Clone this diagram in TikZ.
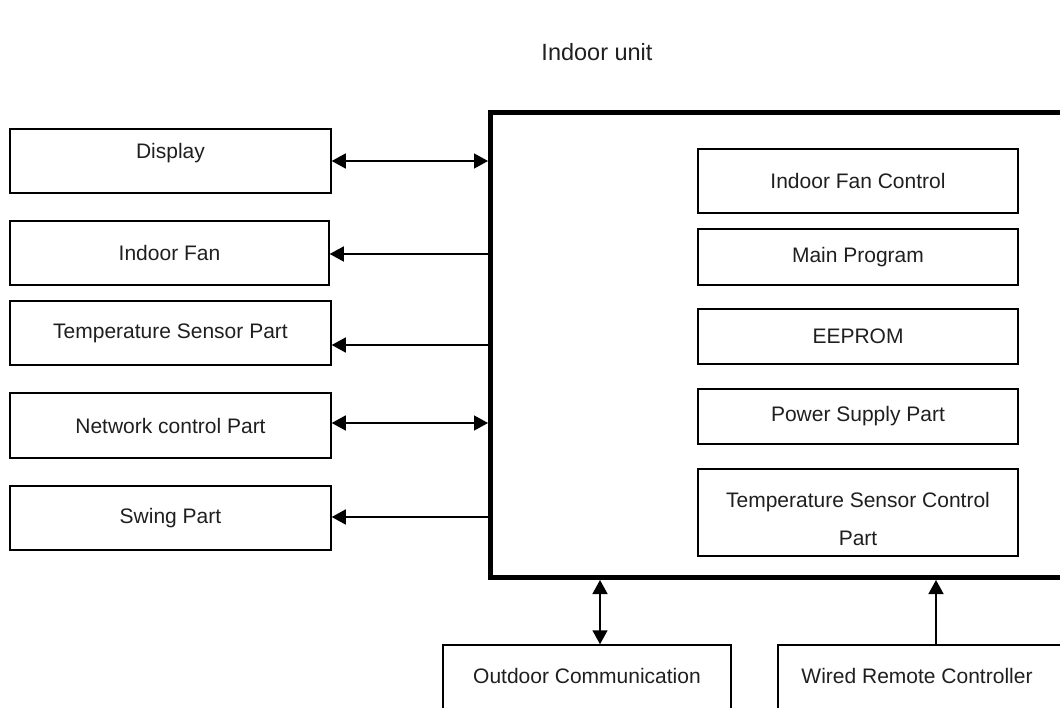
\documentclass[tikz,border=0pt]{standalone}
\usepackage{fontspec}
\setmainfont{Liberation Sans}
\usetikzlibrary{arrows.meta}
\begin{document}
\begin{tikzpicture}[x=1pt,y=-1pt,
  txt/.style={font=\fontsize{21}{38}\selectfont, text=black!88},
  box/.style={draw, line width=1.5pt, inner sep=0pt, txt},
  bigbox/.style={draw, line width=5pt, inner sep=0pt},
  conn/.style={line width=1.5pt, >={Triangle[length=14pt,width=15pt]}}]
\useasboundingbox (0,0) rectangle (1060,708);
\clip (0,0) rectangle (1060,708);

\node[txt, font=\fontsize{23.5}{28}\selectfont] (title) at (597,52) {Indoor unit};

% main unit
\node[bigbox, minimum width=589.5pt, minimum height=464.5pt] (main) at (785.25,345.25) {};

% left boxes
\node[box, minimum width=321pt, minimum height=64pt] (disp) at (170.5,161) {\raisebox{8pt}[\height][\depth]{Display}};
\node[box, minimum width=319pt, minimum height=64pt] (fan) at (169.5,253) {Indoor Fan};
\node[box, minimum width=321pt, minimum height=64pt] (temp) at (170.5,333) {Temperature Sensor Part};
\node[box, minimum width=321pt, minimum height=65pt] (net) at (170.5,425.5) {Network control Part};
\node[box, minimum width=321pt, minimum height=64pt] (swing) at (170.5,518) {Swing Part};

% inner boxes
\node[box, minimum width=320pt, minimum height=64pt] (ifc) at (858,181) {Indoor Fan Control};
\node[box, minimum width=320pt, minimum height=56pt] (mp) at (858,257) {Main Program};
\node[box, minimum width=320pt, minimum height=55pt] (eep) at (858,336.5) {EEPROM};
\node[box, minimum width=320pt, minimum height=55pt] (ps) at (858,416.5) {Power Supply Part};
\node[box, minimum width=320pt, minimum height=87pt,
  label={[txt, align=center, yshift=-6pt]center:Temperature Sensor Control\\Part}] (tsc) at (858,512.5) {};

% bottom boxes
\node[box, minimum width=288pt, minimum height=85pt] (out) at (587,687.5) {\raisebox{11.5pt}[\height][\depth]{Outdoor Communication}};
\node[box, minimum width=292pt, minimum height=85pt,
  label={[txt, xshift=-7pt, yshift=11.5pt]center:Wired Remote Controller}] (wrc) at (924,687.5) {};

% connectors
\draw[conn, <->] (disp.east) -- (disp.east -| main.west);
\draw[conn, <-] ([yshift=-1pt]fan.east) -- ([yshift=-1pt]fan.east -| main.west);
\draw[conn, <-] ([yshift=-12pt]temp.east) -- ([yshift=-12pt]temp.east -| main.west);
\draw[conn, <->] ([yshift=2.5pt]net.east) -- ([yshift=2.5pt]net.east -| main.west);
\draw[conn, <-] ([yshift=1pt]swing.east) -- ([yshift=1pt]swing.east -| main.west);
\draw[conn, <->] ([xshift=13pt]out.north) -- ([xshift=13pt]out.north |- main.south);
\draw[conn, ->] ([xshift=12pt]wrc.north) -- ([xshift=12pt]wrc.north |- main.south);
\end{tikzpicture}
\end{document}
